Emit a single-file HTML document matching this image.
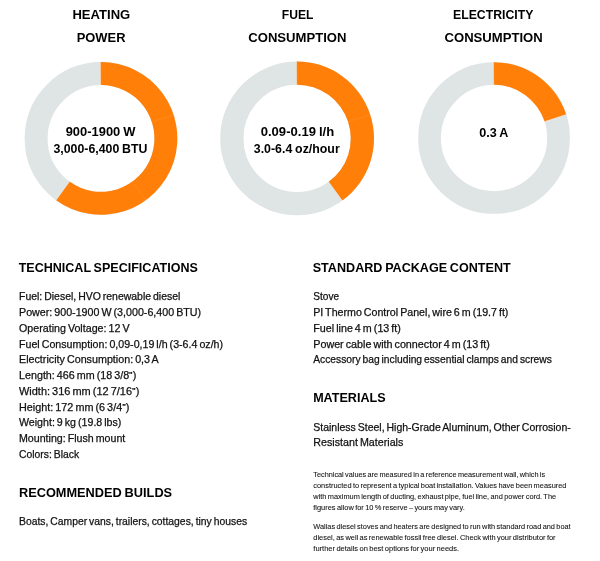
<!DOCTYPE html>
<html lang="en"><head><meta charset="utf-8"><title>Technical specifications</title>
<style>
html,body{margin:0;padding:0;background:#fff}
body{width:600px;height:561px;position:relative;overflow:hidden;font-family:"Liberation Sans",sans-serif}
.donuts{position:absolute;left:0;top:0}
.t{position:absolute;left:0;top:0;white-space:nowrap;transform-origin:0 0;line-height:1;margin:0;padding:0;word-spacing:-0.09em;-webkit-text-stroke:0.25px currentColor}
.b{font-weight:700;-webkit-text-stroke-width:0;word-spacing:-0.06em}
.c{word-spacing:-0.05em}
.s{-webkit-text-stroke-width:0.08px}
</style></head><body>
<svg class="donuts" width="600" height="240" viewBox="0 0 600 240"><circle cx="101.0" cy="138.4" r="64.875" fill="none" stroke="#dfe4e5" stroke-width="22.95"/><path d="M100.47 62.05A76.35 76.35 0 1 1 56.12 200.17L69.61 181.60A53.4 53.4 0 1 0 100.63 85.00Z" fill="#ff7f08"/><line x1="151.79" y1="121.90" x2="173.61" y2="114.81" stroke="#fff" stroke-opacity=".1" stroke-width=".8"/><line x1="132.39" y1="181.60" x2="145.88" y2="200.17" stroke="#fff" stroke-opacity=".1" stroke-width=".8"/><line x1="100.63" y1="85.00" x2="100.47" y2="62.05" stroke="#fff" stroke-opacity=".45" stroke-width=".7"/><line x1="69.61" y1="181.60" x2="56.12" y2="200.17" stroke="#fff" stroke-opacity=".45" stroke-width=".7"/><circle cx="297.1" cy="138.4" r="65.275" fill="none" stroke="#dfe4e5" stroke-width="23.25"/><path d="M296.56 61.50A76.9 76.9 0 0 1 342.30 200.61L328.63 181.80A53.65 53.65 0 0 0 296.73 84.75Z" fill="#ff7f08"/><line x1="348.12" y1="121.82" x2="370.24" y2="114.64" stroke="#fff" stroke-opacity=".1" stroke-width=".8"/><line x1="296.73" y1="84.75" x2="296.56" y2="61.50" stroke="#fff" stroke-opacity=".45" stroke-width=".7"/><line x1="328.63" y1="181.80" x2="342.30" y2="200.61" stroke="#fff" stroke-opacity=".45" stroke-width=".7"/><circle cx="494.05" cy="138.0" r="64.5" fill="none" stroke="#dfe4e5" stroke-width="22.70"/><path d="M493.52 62.15A75.85 75.85 0 0 1 566.19 114.56L544.60 121.58A53.15 53.15 0 0 0 493.68 84.85Z" fill="#ff7f08"/><line x1="493.68" y1="84.85" x2="493.52" y2="62.15" stroke="#fff" stroke-opacity=".45" stroke-width=".7"/><line x1="544.60" y1="121.58" x2="566.19" y2="114.56" stroke="#fff" stroke-opacity=".45" stroke-width=".7"/></svg>
<div class="t b c" style="font-size:12.3px;color:#000;transform:translate(72.45px,8.84px) scaleX(1.0613)">HEATING</div>
<div class="t b c" style="font-size:12.3px;color:#000;transform:translate(76.71px,32.09px) scaleX(1.0497)">POWER</div>
<div class="t b c" style="font-size:12.3px;color:#000;transform:translate(281.76px,8.84px) scaleX(0.9839)">FUEL</div>
<div class="t b c" style="font-size:12.3px;color:#000;transform:translate(248.22px,32.09px) scaleX(1.0659)">CONSUMPTION</div>
<div class="t b c" style="font-size:12.3px;color:#000;transform:translate(453.00px,8.84px) scaleX(0.9969)">ELECTRICITY</div>
<div class="t b c" style="font-size:12.3px;color:#000;transform:translate(444.47px,32.09px) scaleX(1.0659)">CONSUMPTION</div>
<div class="t b c" style="font-size:12.3px;color:#000;transform:translate(65.67px,125.89px) scaleX(1.0510)">900-1900 W</div>
<div class="t b c" style="font-size:12.3px;color:#000;transform:translate(53.45px,142.59px) scaleX(1.0027)">3,000-6,400 BTU</div>
<div class="t b c" style="font-size:12.3px;color:#000;transform:translate(260.67px,125.89px) scaleX(1.0642)">0.09-0.19 l/h</div>
<div class="t b c" style="font-size:12.3px;color:#000;transform:translate(253.75px,142.59px) scaleX(1.0059)">3.0-6.4 oz/hour</div>
<div class="t b c" style="font-size:12px;color:#000;transform:translate(479.28px,126.54px) scaleX(1.0467)">0.3 A</div>
<div class="t b" style="font-size:13px;color:#000;transform:translate(18.66px,260.50px) scaleX(0.9643)">TECHNICAL SPECIFICATIONS</div>
<div class="t" style="font-size:10.5px;color:#111;transform:translate(19.00px,291.46px) scaleX(0.9960)">Fuel: Diesel, HVO renewable diesel</div>
<div class="t" style="font-size:10.5px;color:#111;transform:translate(19.00px,307.20px) scaleX(1.0177)">Power: 900-1900 W (3,000-6,400 BTU)</div>
<div class="t" style="font-size:10.5px;color:#111;transform:translate(19.00px,322.94px) scaleX(1.0170)">Operating Voltage: 12 V</div>
<div class="t" style="font-size:10.5px;color:#111;transform:translate(19.00px,338.68px) scaleX(1.0137)">Fuel Consumption: 0,09-0,19 l/h (3-6.4 oz/h)</div>
<div class="t" style="font-size:10.5px;color:#111;transform:translate(19.00px,354.42px) scaleX(1.0219)">Electricity Consumption: 0,3 A</div>
<div class="t" style="font-size:10.5px;color:#111;transform:translate(19.00px,370.16px) scaleX(1.0223)">Length: 466 mm (18 3/8<span class="q" style="font-size:.7em;font-weight:700;vertical-align:.24em;line-height:0">"</span>)</div>
<div class="t" style="font-size:10.5px;color:#111;transform:translate(19.00px,385.90px) scaleX(1.0436)">Width: 316 mm (12 7/16<span class="q" style="font-size:.7em;font-weight:700;vertical-align:.24em;line-height:0">"</span>)</div>
<div class="t" style="font-size:10.5px;color:#111;transform:translate(19.00px,401.64px) scaleX(1.0305)">Height: 172 mm (6 3/4<span class="q" style="font-size:.7em;font-weight:700;vertical-align:.24em;line-height:0">"</span>)</div>
<div class="t" style="font-size:10.5px;color:#111;transform:translate(19.00px,417.38px) scaleX(1.0129)">Weight: 9 kg (19.8 lbs)</div>
<div class="t" style="font-size:10.5px;color:#111;transform:translate(19.00px,433.12px) scaleX(1.0133)">Mounting: Flush mount</div>
<div class="t" style="font-size:10.5px;color:#111;transform:translate(19.00px,448.86px) scaleX(0.9869)">Colors: Black</div>
<div class="t b" style="font-size:13px;color:#000;transform:translate(18.92px,485.70px) scaleX(0.9825)">RECOMMENDED BUILDS</div>
<div class="t" style="font-size:11.2px;color:#111;transform:translate(19.00px,516.22px) scaleX(0.9256)">Boats, Camper vans, trailers, cottages, tiny houses</div>
<div class="t b" style="font-size:13px;color:#000;transform:translate(312.72px,260.50px) scaleX(0.9679)">STANDARD PACKAGE CONTENT</div>
<div class="t" style="font-size:10.5px;color:#111;transform:translate(313.25px,291.46px) scaleX(0.9623)">Stove</div>
<div class="t" style="font-size:10.5px;color:#111;transform:translate(313.25px,307.20px) scaleX(1.0143)">PI Thermo Control Panel, wire 6 m (19.7 ft)</div>
<div class="t" style="font-size:10.5px;color:#111;transform:translate(313.25px,322.94px) scaleX(1.0223)">Fuel line 4 m (13 ft)</div>
<div class="t" style="font-size:10.5px;color:#111;transform:translate(313.25px,338.68px) scaleX(1.0230)">Power cable with connector 4 m (13 ft)</div>
<div class="t" style="font-size:10.5px;color:#111;transform:translate(313.25px,354.42px) scaleX(0.9774)">Accessory bag including essential clamps and screws</div>
<div class="t b" style="font-size:13px;color:#000;transform:translate(313.13px,390.50px) scaleX(0.9679)">MATERIALS</div>
<div class="t" style="font-size:11.2px;color:#111;transform:translate(313.25px,421.52px) scaleX(0.9372)">Stainless Steel, High-Grade Aluminum, Other Corrosion-</div>
<div class="t" style="font-size:11.2px;color:#111;transform:translate(313.25px,437.22px) scaleX(0.9573)">Resistant Materials</div>
<div class="t s" style="font-size:7.6px;color:#111;transform:translate(313.30px,470.87px) scaleX(0.9606)">Technical values are measured in a reference measurement wall, which is</div>
<div class="t s" style="font-size:7.6px;color:#111;transform:translate(313.30px,482.27px) scaleX(0.9729)">constructed to represent a typical boat installation. Values have been measured</div>
<div class="t s" style="font-size:7.6px;color:#111;transform:translate(313.30px,493.17px) scaleX(0.9729)">with maximum length of ducting, exhaust pipe, fuel line, and power cord. The</div>
<div class="t s" style="font-size:7.6px;color:#111;transform:translate(313.30px,504.37px) scaleX(0.9751)">figures allow for 10 % reserve – yours may vary.</div>
<div class="t s" style="font-size:7.6px;color:#111;transform:translate(313.30px,522.77px) scaleX(0.9687)">Wallas diesel stoves and heaters are designed to run with standard road and boat</div>
<div class="t s" style="font-size:7.6px;color:#111;transform:translate(313.30px,533.77px) scaleX(0.9786)">diesel, as well as renewable fossil free diesel. Check with your distributor for</div>
<div class="t s" style="font-size:7.6px;color:#111;transform:translate(313.30px,544.77px) scaleX(0.9878)">further details on best options for your needs.</div>
</body></html>
